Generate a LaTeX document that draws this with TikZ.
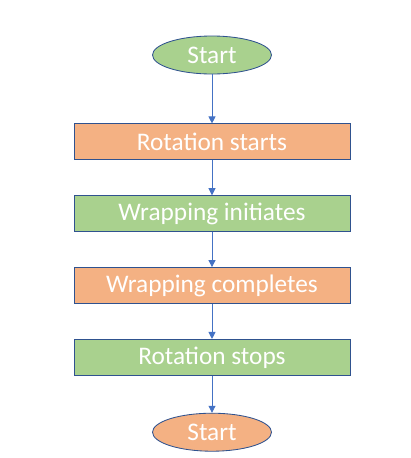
\documentclass[tikz,border=0pt]{standalone}
\usepackage{fontspec}
\setmainfont{Carlito}
\usetikzlibrary{shapes.geometric, arrows.meta, positioning}
\definecolor{boxgreen}{HTML}{A9D18E}
\definecolor{boxorange}{HTML}{F4B183}
\definecolor{edgeblue}{HTML}{2F528F}
\definecolor{arrowblue}{HTML}{4472C4}

\begin{document}
\begin{tikzpicture}[
  term/.style={ellipse, draw=edgeblue, line width=0.6pt, minimum width=2.975cm, minimum height=0.95cm, inner sep=0pt, text=white, font=\fontsize{18}{21}\selectfont},
  act/.style={rectangle, draw=edgeblue, line width=0.6pt, minimum width=6.9cm, minimum height=0.9cm, inner sep=0pt, text=white, font=\fontsize{18}{21}\selectfont},
  flow/.style={draw=arrowblue, line width=0.6pt, -{Triangle[length=5pt, width=5pt]}}
]
\useasboundingbox (0,0) rectangle (10.275,-11.45);

\node[term, fill=boxgreen] (start) at (5.3,-1.375) {Start};
\node[act, fill=boxorange, below=1.225cm of start] (rot) {Rotation starts};
\node[act, fill=boxgreen, below=0.875cm of rot] (wrapi) {Wrapping initiates};
\node[act, fill=boxorange, below=0.875cm of wrapi] (wrapc) {Wrapping completes};
\node[act, fill=boxgreen, below=0.875cm of wrapc] (stop) {Rotation stops};
\node[term, fill=boxorange, below=0.925cm of stop] (fin) {Start};

\draw[flow] (start) -- (rot);
\draw[flow] (rot) -- (wrapi);
\draw[flow] (wrapi) -- (wrapc);
\draw[flow] (wrapc) -- (stop);
\draw[flow] (stop) -- (fin);

\end{tikzpicture}
\end{document}
